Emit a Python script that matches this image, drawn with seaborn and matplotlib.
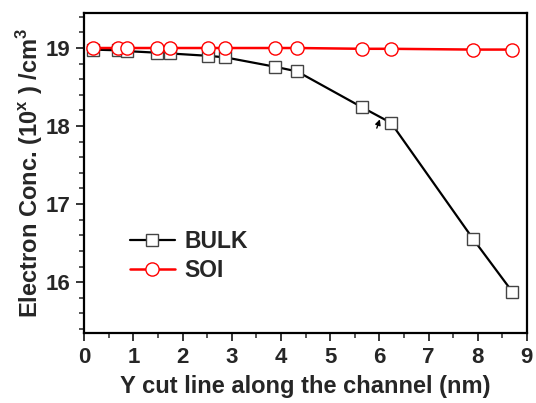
import pandas as pd
import matplotlib.pyplot as plt
import seaborn as sns

# values
y_cut = [0.18, 0.69, 0.87, 1.48, 1.75, 2.52, 2.87, 3.88, 4.33, 5.65, 6.24, 7.91, 8.70]
bulk = [18.98, 18.97, 18.96, 18.94, 18.93, 18.90, 18.88, 18.76, 18.70, 18.24, 18.04, 16.55, 15.88]
soi = [19.00, 19.00, 19.00, 19.00, 19.00, 19.00, 19.00, 19.00, 19.00, 18.99, 18.99, 18.98, 18.98]

df = pd.DataFrame({'y': y_cut, 'BULK': bulk, 'SOI': soi})

sns.set_style('ticks')
plt.rcParams['font.family'] = ['Liberation Sans', 'DejaVu Sans']
plt.rcParams['font.weight'] = 'bold'
plt.rcParams['mathtext.fontset'] = 'custom'
plt.rcParams['mathtext.rm'] = 'Liberation Sans:bold'
plt.rcParams['mathtext.bf'] = 'Liberation Sans:bold'

fig = plt.figure(figsize=(5.36, 4.03), dpi=100)
ax = fig.add_axes([0.157, 0.174, 0.826, 0.794])

sns.lineplot(data=df, x='y', y='BULK', ax=ax, color='black', lw=1.6,
             marker='s', markersize=8, markerfacecolor='white',
             markeredgecolor='#444444', markeredgewidth=1.0, label='BULK')
sns.lineplot(data=df, x='y', y='SOI', ax=ax, color='red', lw=1.8,
             marker='o', markersize=9.5, markerfacecolor='white',
             markeredgecolor='red', markeredgewidth=1.0, label='SOI')

# small arrow near x=6
ax.annotate('', xy=(6.03, 18.12), xytext=(5.93, 17.94),
            arrowprops=dict(arrowstyle='-|>', color='black', lw=1.0, mutation_scale=8))

ax.set_xlim(0, 9)
ax.set_ylim(15.35, 19.45)
ax.set_xticks(range(0, 10))
ax.set_xticks([i + 0.5 for i in range(9)], minor=True)
ax.set_yticks([16, 17, 18, 19])
ax.set_yticks([15.4, 15.6, 15.8, 16.2, 16.4, 16.6, 16.8, 17.2, 17.4, 17.6, 17.8,
               18.2, 18.4, 18.6, 18.8, 19.2, 19.4], minor=True)
ax.tick_params(which='major', direction='out', length=6, width=1.3, labelsize=16, pad=4)
ax.tick_params(which='minor', direction='out', length=3.5, width=1.1)
for lab in ax.get_xticklabels() + ax.get_yticklabels():
    lab.set_fontweight('bold')
for s in ax.spines.values():
    s.set_linewidth(1.6)
    s.set_color('black')

ax.set_xlabel('Y cut line along the channel (nm)', fontsize=17, fontweight='bold', labelpad=5)
ax.set_ylabel(r'Electron Conc. (10$^{\mathbf{x}}$ ) /cm$^{\mathbf{3}}$', fontsize=17,
              fontweight='bold', labelpad=0)

ax.legend(loc='lower left', bbox_to_anchor=(0.056, 0.095), frameon=False,
          handlelength=2.0, labelspacing=0.25, handletextpad=0.4,
          prop={'weight': 'bold', 'size': 16.5})

plt.savefig('out.png', dpi=100)
